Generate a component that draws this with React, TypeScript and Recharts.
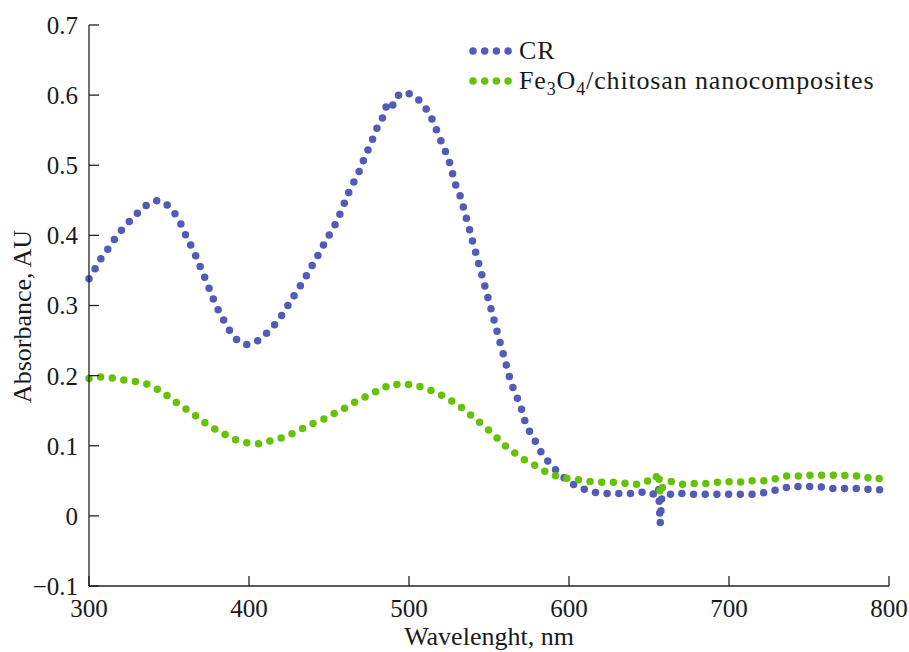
import { LineChart, Line, XAxis, YAxis } from 'recharts';

const FONT = '"Liberation Serif", "Times New Roman", serif';
const CR_COLOR = '#525cb6';
const NC_COLOR = '#66c207';

const xTicks = [300, 400, 500, 600, 700, 800];
const yTicks = [-0.1, 0, 0.1, 0.2, 0.3, 0.4, 0.5, 0.6, 0.7];

// Congo red spectrum (nm / AU)
const crWavelength = [
  300, 304, 308, 313, 317, 322, 327, 332, 337, 343, 349, 354, 358, 361, 365, 368, 371, 374, 377, 380,
  384, 388, 392, 398, 404, 409, 414, 419, 423, 427, 431, 435, 439, 443, 447, 451, 455, 458, 461, 464,
  468, 471, 474, 477, 480, 484, 486, 489, 492, 497, 503, 508, 513, 516, 519, 522, 525, 527, 529, 532,
  534, 536, 538, 540, 542, 544, 546, 548, 550, 552, 554, 556, 558, 560, 562, 564, 567, 570, 572, 575,
  579, 582, 586, 591, 596, 601, 607, 613, 619, 625, 631, 637, 643, 648, 653, 656, 657, 658, 662, 667,
  673, 679, 685, 691, 697, 703, 710, 716, 722, 728, 734, 740, 746, 751, 756, 762, 768, 774, 780, 786,
  792, 797,
];
const crAbsorbance = [
  0.338, 0.353, 0.369, 0.384, 0.398, 0.412, 0.424, 0.436, 0.445, 0.45, 0.443, 0.43, 0.414, 0.397, 0.38, 0.364, 0.347, 0.331, 0.313, 0.297,
  0.28, 0.264, 0.252, 0.244, 0.247, 0.256, 0.267, 0.281, 0.295, 0.31, 0.324, 0.339, 0.355, 0.371, 0.388, 0.404, 0.42, 0.437, 0.454, 0.47,
  0.486, 0.504, 0.52, 0.536, 0.553, 0.57, 0.586, 0.581, 0.598, 0.604, 0.6, 0.589, 0.573, 0.557, 0.54, 0.524, 0.507, 0.49, 0.473, 0.456,
  0.44, 0.423, 0.407, 0.389, 0.373, 0.356, 0.34, 0.322, 0.306, 0.289, 0.272, 0.255, 0.238, 0.222, 0.205, 0.188, 0.172, 0.155, 0.138, 0.122,
  0.106, 0.093, 0.08, 0.067, 0.056, 0.047, 0.04, 0.035, 0.032, 0.032, 0.032, 0.032, 0.032, 0.035, 0.031, 0.041, -0.011, 0.028, 0.03, 0.033,
  0.031, 0.031, 0.031, 0.031, 0.031, 0.031, 0.031, 0.031, 0.033, 0.036, 0.04, 0.042, 0.042, 0.042, 0.042, 0.039, 0.039, 0.039, 0.039, 0.038,
  0.038, 0.036,
];

// Fe3O4/chitosan nanocomposites spectrum (nm / AU)
const ncWavelength = [
  300, 307, 314, 321, 328, 335, 341, 347, 352, 358, 363, 369, 375, 381, 387, 393, 399, 406, 412, 419,
  425, 431, 436, 442, 448, 454, 460, 466, 472, 478, 484, 487, 491, 498, 505, 511, 518, 524, 529, 535,
  540, 546, 551, 556, 561, 567, 572, 578, 583, 588, 594, 601, 607, 613, 620, 626, 632, 638, 643, 648,
  653, 656, 657, 659, 664, 669, 675, 680, 686, 693, 699, 705, 710, 716, 723, 729, 735, 740, 746, 751,
  757, 763, 768, 774, 780, 786, 791, 796,
];
const ncAbsorbance = [
  0.196, 0.198, 0.197, 0.194, 0.192, 0.189, 0.183, 0.175, 0.165, 0.157, 0.148, 0.139, 0.128, 0.121, 0.114, 0.107, 0.104, 0.103, 0.106, 0.11,
  0.115, 0.122, 0.127, 0.134, 0.139, 0.147, 0.154, 0.162, 0.169, 0.176, 0.181, 0.187, 0.187, 0.188, 0.186, 0.181, 0.175, 0.167, 0.161, 0.151,
  0.141, 0.13, 0.12, 0.109, 0.098, 0.088, 0.08, 0.073, 0.066, 0.06, 0.055, 0.053, 0.051, 0.049, 0.048, 0.048, 0.048, 0.045, 0.045, 0.05,
  0.049, 0.062, 0.03, 0.045, 0.049, 0.045, 0.045, 0.047, 0.046, 0.048, 0.049, 0.047, 0.05, 0.05, 0.05, 0.053, 0.057, 0.057, 0.057, 0.058,
  0.058, 0.057, 0.059, 0.057, 0.057, 0.054, 0.056, 0.051,
];

const crData = crWavelength.map((x, i) => ({ x, y: crAbsorbance[i] }));
const ncData = ncWavelength.map((x, i) => ({ x, y: ncAbsorbance[i] }));

const formatY = (v: number) => (v < 0 ? '\u2212' + Math.abs(v) : String(v));

const DotSample = ({ color }: { color: string }) => (
  <svg width={44} height={10} style={{ display: 'block', flex: 'none' }}>
    <line x1={4} y1={5} x2={40} y2={5} stroke={color} strokeWidth={7.5} strokeLinecap="round" strokeDasharray="0 11.7" />
  </svg>
);

const ChartLegend = () => (
  <div
    style={{
      position: 'absolute', left: 469, top: 36, fontFamily: FONT, fontSize: 26,
      color: '#1a1a1a', lineHeight: '30px', letterSpacing: 0.85,
    }}
  >
    <div style={{ display: 'flex', alignItems: 'center', height: 30 }}>
      <DotSample color={CR_COLOR} />
      <span style={{ marginLeft: 6 }}>CR</span>
    </div>
    <div style={{ display: 'flex', alignItems: 'center', height: 30 }}>
      <DotSample color={NC_COLOR} />
      <span style={{ marginLeft: 6, whiteSpace: 'nowrap' }}>
        Fe<sub style={{ fontSize: 18, lineHeight: 0 }}>3</sub>O<sub style={{ fontSize: 18, lineHeight: 0 }}>4</sub>/chitosan nanocomposites
      </span>
    </div>
  </div>
);

const YLabel = ({ viewBox }: any) => {
  const cx = 22;
  const cy = viewBox.y + viewBox.height / 2 + 11;
  return (
    <text x={cx} y={cy} transform={`rotate(-90 ${cx} ${cy})`} textAnchor="middle" dominantBaseline="central"
      fontFamily={FONT} fontSize={26} fill="#1a1a1a">
      Absorbance, AU
    </text>
  );
};

export default function App() {
  const tickStyle = { fontFamily: FONT, fontSize: 25, fill: '#1a1a1a' };
  return (
    <div style={{ position: 'absolute', left: 0, top: 0, width: 909, height: 652, background: '#fff' }}>
      <LineChart width={909} height={652} margin={{ top: 25, right: 20, bottom: 0, left: 0 }}>
        <XAxis
          dataKey="x"
          type="number"
          domain={[300, 800]}
          ticks={xTicks}
          height={66}
          stroke="#222"
          strokeWidth={1.3}
          tickSize={-10}
          tickMargin={23}
          tick={tickStyle}
          label={{ value: 'Wavelenght, nm', position: 'insideBottom', offset: 7, style: { fontFamily: FONT, fontSize: 26, fill: '#1a1a1a' } }}
        />
        <YAxis
          type="number"
          domain={[-0.1, 0.7]}
          ticks={yTicks}
          width={89}
          stroke="#222"
          strokeWidth={1.3}
          tickSize={-10}
          tickMargin={21}
          tick={tickStyle}
          tickFormatter={formatY}
          label={<YLabel />}
        />
        <Line
          data={crData}
          dataKey="y"
          name="CR"
          type="linear"
          stroke={CR_COLOR}
          strokeWidth={7.5}
          strokeLinecap="round"
          strokeDasharray="0 11.7"
          dot={false}
          activeDot={false}
          isAnimationActive={false}
        />
        <Line
          data={ncData}
          dataKey="y"
          name="Fe3O4/chitosan nanocomposites"
          type="linear"
          stroke={NC_COLOR}
          strokeWidth={7.5}
          strokeLinecap="round"
          strokeDasharray="0 11.7"
          dot={false}
          activeDot={false}
          isAnimationActive={false}
        />
      </LineChart>
      <ChartLegend />
    </div>
  );
}
